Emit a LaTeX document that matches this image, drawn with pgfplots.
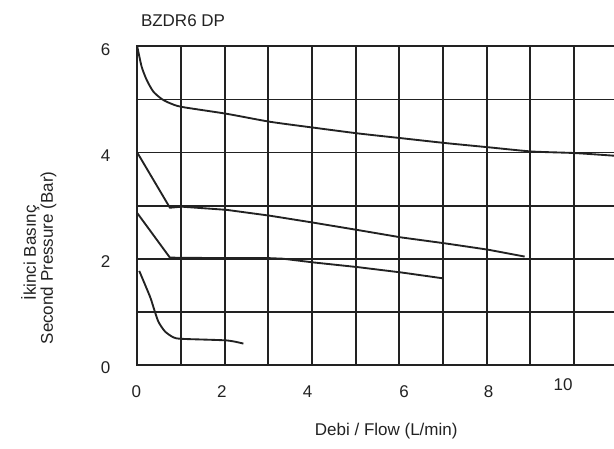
\documentclass[border=0pt]{standalone}
\usepackage{fontspec}
\setmainfont{Liberation Sans}
\usepackage{pgfplots}
\pgfplotsset{compat=1.18}
\definecolor{ink}{HTML}{222222}
\newcommand\sh[2]{\kern#1\relax#2\kern-#1\relax}
\newcommand\fnt{\fontsize{12.75pt}{15pt}\selectfont}
\begin{document}
\begin{tikzpicture}[font=\fnt]
\begin{axis}[
  scale only axis,
  width=360.5pt, height=238.95pt,
  xmin=0, xmax=11, ymin=0, ymax=6,
  clip=false,
  axis line style={draw=none},
  major tick length=0pt, minor tick length=0pt,
  xtick={0,2,4,6,8,10},
  minor xtick={1,3,5,7,9},
  ytick={0,2,4,6},
  minor ytick={1,3,5},
  xticklabels={\sh{-0.75pt}{0},\sh{-2pt}{2},\sh{-3.3pt}{4},\sh{3.6pt}{6},\sh{1.5pt}{8},\raisebox{5.25pt}{\sh{-8.25pt}{10}}},
  grid=both,
  major grid style={ink, line width=1.4pt, line cap=rect},
  minor grid style={ink, line width=1.4pt, line cap=rect},
  /pgf/number format/assume math mode=true,
  tick label style={font=\fnt},
  xticklabel style={anchor=base, inner sep=0pt, yshift=-24.75pt, text=ink},
  yticklabel style={anchor=east, inner sep=0pt, xshift=-20pt, yshift=-2.25pt, text=ink},
]
% top curve
\addplot[ink, line width=1.4pt, smooth, tension=0.4] coordinates {
 (0,6.0) (0.10,5.62) (0.215,5.37) (0.366,5.15) (0.558,5.01) (0.748,4.93)
 (1.016,4.86) (2.046,4.73) (3.037,4.58) (4.027,4.47) (5.057,4.36)
 (6.05,4.27) (7.04,4.18) (8.03,4.10) (9.03,4.02) (10.02,3.99) (11.0,3.935)
};
% second curve
\addplot[ink, line width=1.4pt] coordinates {
 (0,4.0) (0.748,2.96) (1.016,2.98) (2.046,2.92) (3.037,2.81) (4.027,2.68)
 (5.05,2.54) (6.05,2.40) (7.04,2.29) (8.03,2.17) (8.87,2.04)
};
% third curve
\addplot[ink, line width=1.4pt] coordinates {
 (0,2.86) (0.748,2.02) (2.05,2.01) (3.04,2.01) (3.33,2.0) (4.03,1.93)
 (5.06,1.84) (6.05,1.74) (7.0,1.63)
};
% bottom curve
\addplot[ink, line width=1.4pt, smooth, tension=0.4] coordinates {
 (0.046,1.77) (0.29,1.29) (0.366,1.10) (0.48,0.82) (0.634,0.63) (0.824,0.52)
 (1.016,0.49) (2.046,0.46) (2.43,0.40)
};
\node[font=\fnt, anchor=base west, inner sep=0pt, text=ink] at (axis cs:0.08,6.38) {BZDR6 DP};
\node[font=\fnt, anchor=base, inner sep=0pt, text=ink] at (axis cs:5.70,-1.337) {Debi / Flow (L/min)};
\node[font=\fnt, rotate=90, anchor=base, inner sep=0pt, text=ink] at (axis cs:-2.32,2.11) {İkinci Basınç};
\node[font=\fnt, rotate=90, anchor=base, inner sep=0pt, text=ink] at (axis cs:-1.929,2.015) {Second Pressure (Bar)};
\coordinate (bbsw) at (axis cs:-3.142,-1.582);
\coordinate (bbne) at (axis cs:10.915,6.874);
\end{axis}
\pgfresetboundingbox
\useasboundingbox (bbsw) rectangle (bbne);
\end{tikzpicture}
\end{document}
